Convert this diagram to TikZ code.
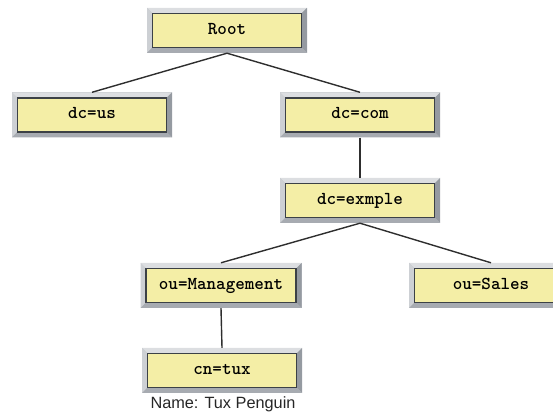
\documentclass[tikz,border=0pt]{standalone}
\usepackage{fontspec}
\setmainfont{Liberation Sans}
\definecolor{boxyellow}{HTML}{F4EEA6}
\definecolor{boxedge}{HTML}{3C4146}
\definecolor{framegray}{HTML}{BEC2C7}
\definecolor{framelight}{HTML}{DCDEE1}
\definecolor{frameside}{HTML}{CDD0D4}
\definecolor{framedark}{HTML}{959AA1}
\definecolor{framelow}{HTML}{A7ABB1}
\definecolor{linkgray}{HTML}{2E2E2E}
\tikzset{
  entrybox/.style={
    rectangle, minimum width=#1, minimum height=45pt, inner sep=0pt,
    text height=10pt, text depth=2pt,
    fill=framegray, font=\ttfamily\bfseries\fontsize{18.2}{20}\selectfont,
    path picture={
      \coordinate (nw) at (path picture bounding box.north west);
      \coordinate (ne) at (path picture bounding box.north east);
      \coordinate (sw) at (path picture bounding box.south west);
      \coordinate (se) at (path picture bounding box.south east);
      % bevelled frame: light top/left, dark right/bottom
      \fill[framelight] (nw) -- (ne) -- ([shift={(-5pt,-5pt)}]ne) -- ([shift={(5pt,-5pt)}]nw) -- cycle;
      \fill[frameside] (nw) -- (sw) -- ([shift={(5pt,5pt)}]sw) -- ([shift={(5pt,-5pt)}]nw) -- cycle;
      \fill[framedark] (ne) -- (se) -- ([shift={(-5pt,5pt)}]se) -- ([shift={(-5pt,-5pt)}]ne) -- cycle;
      \fill[framelow] (sw) -- (se) -- ([shift={(-5pt,5pt)}]se) -- ([shift={(5pt,5pt)}]sw) -- cycle;
      % inner label panel
      \draw[fill=boxyellow, draw=boxedge, line width=1.6pt]
        ([shift={(5.5pt,-5.5pt)}]nw) rectangle ([shift={(-5.5pt,5.5pt)}]se);
    }},
  entrybox/.default=160pt,
  link/.style={draw=linkgray, line width=1.4pt}
}
\begin{document}
\begin{tikzpicture}[x=1pt,y=1pt]
\useasboundingbox (0,0) rectangle (553,414);

\node[entrybox] (root) at (227,383.5) {Root};
\node[entrybox] (us) at (92,299) {dc=us};
\node[entrybox] (com) at (360,299) {dc=com};
\node[entrybox] (exmple) at (360,213.5) {dc=exmple};
\node[entrybox=161pt] (mgmt) at (221,128.5) {ou=Management};
\node[entrybox=164pt] (sales) at (491,128.5) {ou=Sales};
\node[entrybox] (tux) at (222,43.5) {cn=tux};
\node[font=\fontsize{16.3}{18}\selectfont, text=black!85] (tuxname) at (223,9.5) {Name: Tux Penguin};

\draw[link] (root.south) -- (us.north);
\draw[link] (root.south) -- (com.north);
\draw[link] (com.south) -- (exmple.north);
\draw[link] (exmple.south) -- (mgmt.north);
\draw[link] (exmple.south) -- (sales.north);
\draw[link] (mgmt.south) -- (tux.north);
\end{tikzpicture}
\end{document}
